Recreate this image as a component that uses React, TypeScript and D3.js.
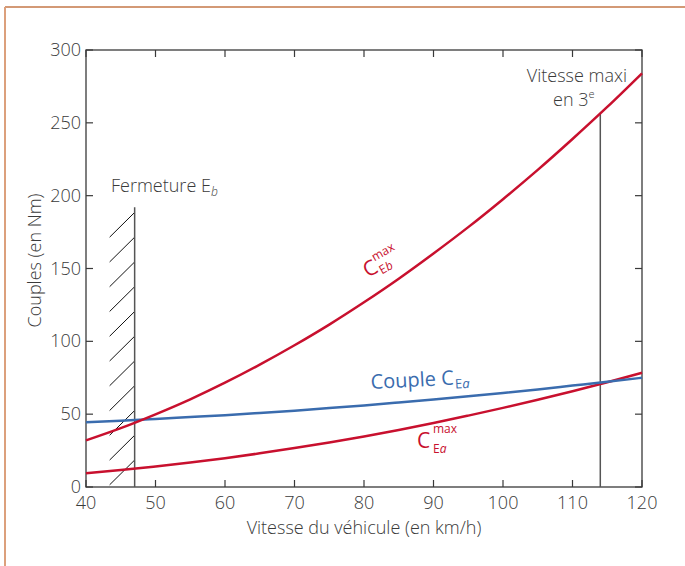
import React from "react";
import * as d3 from "d3";

const speeds = [40, 45, 50, 55, 60, 65, 70, 75, 80, 85, 90, 95, 100, 105, 110, 115, 120];
const cEbMax = [32, 40.4, 49.9, 60.2, 71.6, 84, 97.3, 111.5, 126.8, 143, 160.3, 178.4, 197.6, 217.7, 238.9, 260.9, 284];
const cEa = [44.5, 45.5, 46.7, 48, 49.3, 50.8, 52.4, 54.2, 56, 58, 60.1, 62.3, 64.6, 67, 69.6, 72.2, 75];
const cEaMax = [9.5, 11.6, 14.1, 16.8, 19.8, 23.1, 26.7, 30.6, 34.7, 39.2, 43.9, 49, 54.3, 59.9, 65.7, 71.9, 78.4];

const xTicks = [40, 50, 60, 70, 80, 90, 100, 110, 120];
const yTicks = [0, 50, 100, 150, 200, 250, 300];

const fermetureSpeed = 47;
const fermetureTop = 192;
const hatchLeft = 43.4;
const hatchBottoms = [1.5, 18.5, 35.5, 52.5, 69.5, 86.5, 103.5, 120.5, 137.5, 154.5, 171.5];
const hatchRise = 17;
const maxiSpeed = 114;
const maxiTop = 256;

const W = 685;
const H = 566;
const M = { left: 86, right: 642, top: 50, bottom: 487 };

const RED = "#c8102e";
const BLUE = "#3a6cae";
const AXIS = "#3a3a3a";
const TXT = "#3a3a3a";
const FONT = "'Open Sans', sans-serif";
const FW = 300;

export default function App() {
  const x = d3.scaleLinear().domain([40, 120]).range([M.left, M.right]);
  const y = d3.scaleLinear().domain([0, 300]).range([M.bottom, M.top]);
  const line = d3
    .line<number>()
    .x((_, i) => x(speeds[i]))
    .y((d) => y(d))
    .curve(d3.curveMonotoneX);

  const tick = 7;
  return (
    <svg
      width={W}
      height={H}
      style={{ position: "absolute", left: 0, top: 0, background: "#fff" }}
      fontFamily={FONT}
      fontWeight={FW}
    >
      {/* outer frame */}
      <line x1={5} y1={7} x2={W} y2={7} stroke="#c47748" strokeWidth={1.5} />
      <line x1={5} y1={7} x2={5} y2={H} stroke="#dca07c" strokeWidth={2} />

      {/* plot box */}
      <rect
        x={M.left}
        y={M.top}
        width={M.right - M.left}
        height={M.bottom - M.top}
        fill="none"
        stroke={AXIS}
        strokeWidth={1.3}
      />
      {xTicks.map((t) => (
        <g key={"xt" + t}>
          <line x1={x(t)} x2={x(t)} y1={M.bottom} y2={M.bottom - tick} stroke={AXIS} strokeWidth={1.2} />
          <line x1={x(t)} x2={x(t)} y1={M.top} y2={M.top + tick} stroke={AXIS} strokeWidth={1.2} />
          <text x={x(t)} y={M.bottom + 22} textAnchor="middle" fontSize={18} fill={TXT}>
            {t}
          </text>
        </g>
      ))}
      {yTicks.map((t) => (
        <g key={"yt" + t}>
          <line x1={M.left} x2={M.left + tick} y1={y(t)} y2={y(t)} stroke={AXIS} strokeWidth={1.2} />
          <line x1={M.right} x2={M.right - tick} y1={y(t)} y2={y(t)} stroke={AXIS} strokeWidth={1.2} />
          <text x={81} y={y(t) + 6} textAnchor="end" fontSize={18} fill={TXT}>
            {t}
          </text>
        </g>
      ))}
      <text x={(M.left + M.right) / 2} y={534} textAnchor="middle" fontSize={18} fill={TXT}>
        Vitesse du véhicule (en km/h)
      </text>
      <text
        transform={`translate(41,${(M.top + M.bottom) / 2 - 8}) rotate(-90)`}
        textAnchor="middle"
        fontSize={18}
        fill={TXT}
      >
        Couples (en Nm)
      </text>

      {/* hatching */}
      {hatchBottoms.map((b, i) => (
        <line
          key={"h" + i}
          x1={x(hatchLeft)}
          y1={y(b)}
          x2={x(fermetureSpeed)}
          y2={y(b + hatchRise)}
          stroke="#111"
          strokeWidth={1}
        />
      ))}
      <line
        x1={x(fermetureSpeed)}
        x2={x(fermetureSpeed)}
        y1={y(0)}
        y2={y(fermetureTop)}
        stroke="#555"
        strokeWidth={1.5}
      />
      <line x1={x(maxiSpeed)} x2={x(maxiSpeed)} y1={y(0)} y2={y(maxiTop)} stroke="#555" strokeWidth={1.5} />

      {/* curves */}
      <path d={line(cEaMax) || ""} fill="none" stroke={RED} strokeWidth={2.5} />
      <path d={line(cEa) || ""} fill="none" stroke={BLUE} strokeWidth={2.5} />
      <path d={line(cEbMax) || ""} fill="none" stroke={RED} strokeWidth={2.5} />

      {/* annotations */}
      <text x={111} y={192} fontSize={18} fill={TXT}>
        Fermeture E
        <tspan fontSize={12} fontStyle="italic" dy={4}>
          b
        </tspan>
      </text>
      <text x={627} y={82} textAnchor="end" fontSize={18} fill={TXT}>
        Vitesse maxi
      </text>
      <text x={553} y={106} fontSize={18} fill={TXT}>
        en 3
        <tspan fontSize={11} dy={-8}>
          e
        </tspan>
      </text>

      <g transform="translate(368,278) rotate(-30)" fill={RED} fontWeight={400}>
        <text x={0} y={0} fontSize={21}>C</text>
        <text x={14} y={-11} fontSize={12}>max</text>
        <text x={14} y={4} fontSize={12}>E<tspan fontStyle="italic">b</tspan></text>
      </g>

      <text transform="translate(371,389) rotate(-3)" fill={BLUE} fontSize={20} fontWeight={400}>
        Couple C
        <tspan fontSize={13} dy={4} dx={1}>
          E<tspan fontStyle="italic">a</tspan>
        </tspan>
      </text>

      <g transform="translate(417,448)" fill={RED} fontWeight={400}>
        <text x={0} y={0} fontSize={21}>C</text>
        <text x={16} y={-15} fontSize={12}>max</text>
        <text x={16} y={5} fontSize={12}>E<tspan fontStyle="italic">a</tspan></text>
      </g>
    </svg>
  );
}
